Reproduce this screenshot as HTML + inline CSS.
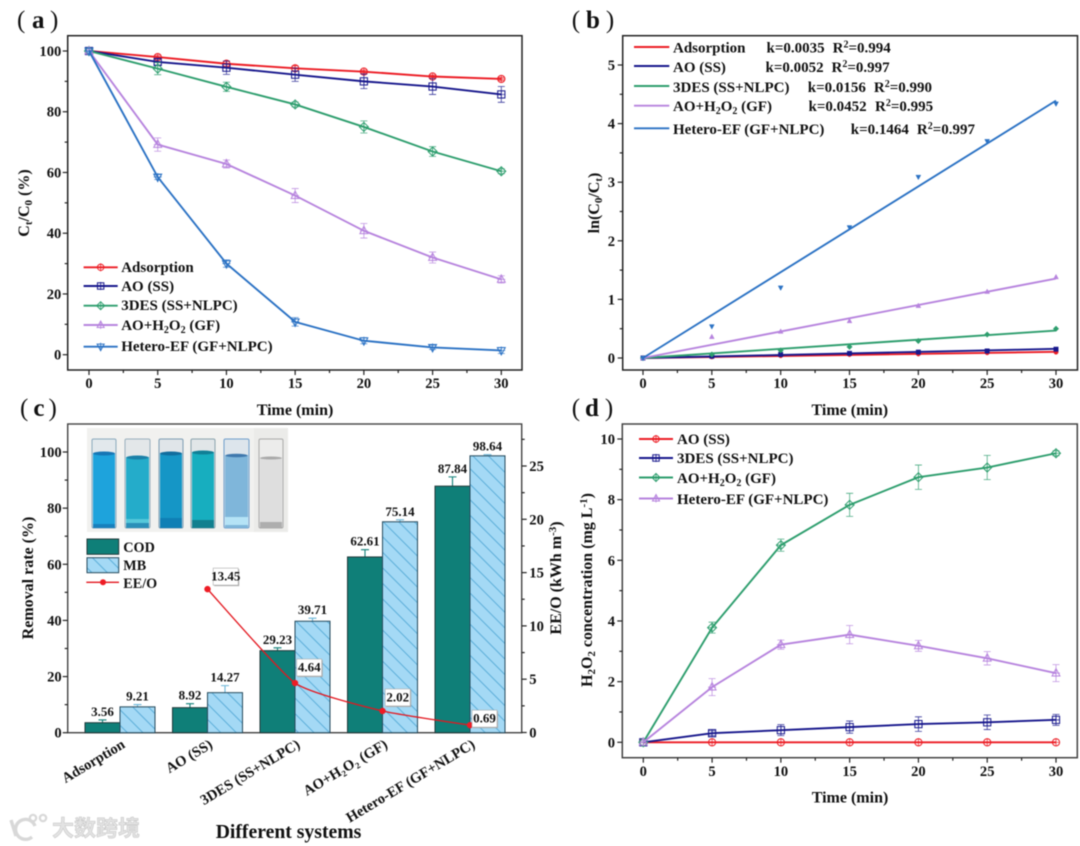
<!DOCTYPE html>
<html lang="en">
<head>
<meta charset="utf-8">
<title>Degradation performance charts</title>
<style>
html,body{margin:0;padding:0;background:#fff;}
body{width:1080px;height:846px;overflow:hidden;}
svg{display:block;filter:blur(0.45px);}
text{font-family:"Liberation Serif","Noto Serif CJK SC",serif;font-weight:bold;fill:#111;}
.tick{font-size:14.6px;}
.title{font-size:16px;}
.leg{font-size:15px;}
.legc{font-size:14.2px;}
.val{font-size:13px;}
.panel{font-size:25px;}
.paren{font-weight:normal;}
.wm{font-family:"Liberation Sans","Noto Sans CJK SC",sans-serif;font-weight:bold;font-size:22px;fill:#e3e3e3;stroke:#c4c4c4;stroke-width:.5px;}
</style>
</head>
<body>
<svg id="root" xmlns="http://www.w3.org/2000/svg" width="1080" height="846" viewBox="0 0 1080 846">
<defs>
<pattern id="hatch" patternUnits="userSpaceOnUse" width="11" height="11" patternTransform="rotate(-45)">
<rect width="11" height="11" fill="#a4d9f5"/>
<line x1="1" y1="0" x2="1" y2="11" stroke="#54a9d6" stroke-width="0.9"/>
</pattern>
</defs>
<rect width="1080" height="846" fill="#fff"/>

<!-- panel labels -->
<text class="panel" x="17" y="28"><tspan class="paren">(</tspan><tspan dx="6.7">a</tspan><tspan class="paren" dx="5.5">)</tspan></text>
<text class="panel" x="571.7" y="28"><tspan class="paren">(</tspan><tspan dx="6">b</tspan><tspan class="paren" dx="6">)</tspan></text>
<text class="panel" x="20" y="416"><tspan class="paren">(</tspan><tspan dx="5">c</tspan><tspan class="paren" dx="4">)</tspan></text>
<text class="panel" x="571.7" y="416"><tspan class="paren">(</tspan><tspan dx="5">d</tspan><tspan class="paren" dx="6">)</tspan></text>

<g id="chartA"></g>
<g id="chartB"></g>

<!-- panel c underlay and photo are appended around bars -->
<g id="chartC"></g>
<g id="photo">
<rect x="87" y="428" width="201" height="104" fill="#f1f1ef"/>
<rect x="254" y="428" width="34" height="104" fill="#ebebe9"/>
<g><rect x="92" y="439" width="24" height="89" rx="1.5" fill="#e2e8ec" stroke="#8aa9bd"/><rect x="93" y="453" width="22" height="75" fill="#1ea3dc"/><ellipse cx="104" cy="453.5" rx="11" ry="2" fill="#1676b5"/><rect x="93" y="524" width="22" height="4" fill="#1780bd"/></g>
<g><rect x="125" y="439" width="25" height="89" rx="1.5" fill="#e3e7e9" stroke="#9ab0bd"/><rect x="126" y="457" width="23" height="71" fill="#24acca"/><ellipse cx="137.5" cy="457.5" rx="11" ry="2" fill="#1a80a8"/><rect x="126" y="519" width="23" height="4" fill="#55c8da"/><rect x="126" y="523" width="23" height="5" fill="#2a8fb8"/></g>
<g><rect x="159" y="439" width="24" height="89" rx="1.5" fill="#e0e5e9" stroke="#7d9db3"/><rect x="160" y="453" width="22" height="75" fill="#1596c6"/><ellipse cx="171" cy="453.5" rx="11" ry="2" fill="#106d9e"/><rect x="160" y="518" width="22" height="10" fill="#0f7fb5"/></g>
<g><rect x="191" y="439" width="24" height="89" rx="1.5" fill="#e1e6e8" stroke="#8aa3ae"/><rect x="192" y="452" width="22" height="76" fill="#17aebf"/><ellipse cx="203" cy="452.5" rx="11" ry="2" fill="#107f96"/><rect x="192" y="520" width="22" height="8" fill="#12808f"/></g>
<g><rect x="224" y="439" width="25" height="89" rx="1.5" fill="#dde5ec" stroke="#6f9ecb"/><rect x="225" y="455" width="23" height="73" fill="#7fb6da"/><ellipse cx="236.5" cy="455.5" rx="11" ry="1.8" fill="#3f78ad"/><rect x="225" y="517" width="23" height="8" fill="#b5e3f6"/></g>
<g><rect x="259" y="439" width="24" height="89" rx="1.5" fill="#ececeb" stroke="#a9a9a9"/><rect x="260" y="458" width="22" height="70" fill="#dedede"/><ellipse cx="271" cy="458" rx="11" ry="1.5" fill="#a9a9a9"/><rect x="260" y="522" width="22" height="6" fill="#aeaeae"/></g>
</g>
<g id="chartCFront"></g>

<g id="chartD"></g>

<!-- axis titles -->
<text class="title" text-anchor="middle" x="295" y="415">Time (min)</text>
<text class="title" text-anchor="middle" transform="translate(29,203) rotate(-90)">C<tspan dy="3" font-size="11">t</tspan><tspan dy="-3">/C</tspan><tspan dy="3" font-size="11">0</tspan><tspan dy="-3"> (%)</tspan></text>
<text class="title" text-anchor="middle" x="849.8" y="415">Time (min)</text>
<text class="title" text-anchor="middle" transform="translate(599,203) rotate(-90)">ln(C<tspan dy="3" font-size="11">0</tspan><tspan dy="-3">/C</tspan><tspan dy="3" font-size="11">t</tspan><tspan dy="-3">)</tspan></text>
<text class="title" text-anchor="middle" transform="translate(33,578) rotate(-90)">Removal rate (%)</text>
<text class="title" text-anchor="middle" transform="translate(561,578) rotate(-90)">EE/O (kWh m<tspan dy="-5" font-size="11">-3</tspan><tspan dy="5">)</tspan></text>
<text text-anchor="middle" x="288.5" y="838" font-size="19.7">Different systems</text>
<text class="title" text-anchor="middle" x="850" y="802.5">Time (min)</text>
<text class="title" text-anchor="middle" transform="translate(592,590) rotate(-90)">H<tspan dy="3" font-size="11">2</tspan><tspan dy="-3">O</tspan><tspan dy="3" font-size="11">2</tspan><tspan dy="-3"> concentration (mg L</tspan><tspan dy="-5" font-size="11">-1</tspan><tspan dy="5">)</tspan></text>

<!-- legend text a -->
<text class="leg" x="121.2" y="272">Adsorption</text>
<text class="leg" x="121.2" y="291">AO (SS)</text>
<text class="leg" x="121.2" y="310">3DES (SS+NLPC)</text>
<text class="leg" x="121.2" y="330">AO+H<tspan dy="3" font-size="10">2</tspan><tspan dy="-3">O</tspan><tspan dy="3" font-size="10">2</tspan><tspan dy="-3"> (GF)</tspan></text>
<text class="leg" x="121.2" y="351">Hetero-EF (GF+NLPC)</text>

<!-- legend text b -->
<text class="leg" x="673" y="52.5">Adsorption</text>
<text class="leg" x="766.5" y="52.5">k=0.0035</text>
<text class="leg" x="832.6" y="52.5">R<tspan dy="-5" font-size="10">2</tspan><tspan dy="5">=0.994</tspan></text>
<text class="leg" x="673" y="72">AO (SS)</text>
<text class="leg" x="765.5" y="72">k=0.0052</text>
<text class="leg" x="831.5" y="72">R<tspan dy="-5" font-size="10">2</tspan><tspan dy="5">=0.997</tspan></text>
<text class="leg" x="673" y="92">3DES (SS+NLPC)</text>
<text class="leg" x="807.8" y="92">k=0.0156</text>
<text class="leg" x="873.9" y="92">R<tspan dy="-5" font-size="10">2</tspan><tspan dy="5">=0.990</tspan></text>
<text class="leg" x="673" y="111">AO+H<tspan dy="3" font-size="10">2</tspan><tspan dy="-3">O</tspan><tspan dy="3" font-size="10">2</tspan><tspan dy="-3"> (GF)</tspan></text>
<text class="leg" x="808.5" y="111">k=0.0452</text>
<text class="leg" x="875" y="111">R<tspan dy="-5" font-size="10">2</tspan><tspan dy="5">=0.995</tspan></text>
<text class="leg" x="673" y="134">Hetero-EF (GF+NLPC)</text>
<text class="leg" x="850.8" y="134">k=0.1464</text>
<text class="leg" x="916.9" y="134">R<tspan dy="-5" font-size="10">2</tspan><tspan dy="5">=0.997</tspan></text>

<!-- legend text c -->
<text class="legc" x="123.3" y="552">COD</text>
<text class="legc" x="123.3" y="570">MB</text>
<text class="legc" x="123.3" y="588">EE/O</text>

<!-- legend text d -->
<text class="leg" x="677" y="444">AO (SS)</text>
<text class="leg" x="677" y="463">3DES (SS+NLPC)</text>
<text class="leg" x="677" y="483">AO+H<tspan dy="3" font-size="10">2</tspan><tspan dy="-3">O</tspan><tspan dy="3" font-size="10">2</tspan><tspan dy="-3"> (GF)</tspan></text>
<text class="leg" x="677" y="504">Hetero-EF (GF+NLPC)</text>

<!-- watermark -->
<g>
<g fill="none" stroke="#d8d8d8" stroke-width="3.4">
<path d="M11 820 L16 836"/>
<path d="M35 826 A10 10 0 1 0 32 837"/>
<circle cx="33" cy="818" r="3.2" stroke-width="2.2"/>
<circle cx="43" cy="818" r="3.2" stroke-width="2.2"/>
</g>
<text class="wm" x="52" y="836">大数跨境</text>
</g>
</svg>

<script>
// ---------- shared x values and tick labels ----------
const timePoints = [0, 5, 10, 15, 20, 25, 30];
const timeTickLabels = [0, 5, 10, 15, 20, 25, 30];

// ---------- panel (a): Ct/C0 (%) ----------
const aTickLabels = [0, 20, 40, 60, 80, 100];
const aAdsorption = [100, 98, 95.8, 94.3, 93.2, 91.6, 90.8];
const aAdsorptionErr = [0, 0.6, 0.8, 0.8, 0.5, 0.5, 0.5];
const aAO = [100, 96.4, 94.5, 92.2, 90, 88.3, 85.7];
const aAOErr = [0, 1, 2.2, 2.2, 2.4, 2.6, 2.6];
const a3DES = [100, 94.2, 88.2, 82.4, 75, 66.9, 60.4];
const a3DESErr = [0, 2, 1.5, 0.8, 2, 1.6, 0.8];
const aH2O2 = [100, 69.2, 62.8, 52.4, 40.8, 32, 24.8];
const aH2O2Err = [0, 2.2, 1.3, 2.3, 2.4, 1.8, 1.2];
const aHetero = [100, 58.5, 30, 10.8, 4.6, 2.4, 1.4];
const aHeteroErr = [0, 0.8, 1.2, 1.4, 1, 0.7, 1];

// ---------- panel (b): ln(C0/Ct) ----------
const bTickLabels = [0, 1, 2, 3, 4, 5];
const bAdsorption = [0, 0.02, 0.04, 0.06, 0.07, 0.09, 0.1];
const bAO = [0, 0.03, 0.06, 0.08, 0.1, 0.12, 0.15];
const b3DES = [0, 0.06, 0.13, 0.19, 0.29, 0.4, 0.5];
const bH2O2 = [0, 0.36, 0.45, 0.63, 0.89, 1.13, 1.38];
const bHetero = [0, 0.54, 1.2, 2.23, 3.09, 3.7, 4.34];
const bRateConstants = [0.0035, 0.0052, 0.0156, 0.0452, 0.1464];

// ---------- panel (c): bars + EE/O ----------
const cCategories = ["Adsorption", "AO (SS)", "3DES (SS+NLPC)", "AO+H\u2082O\u2082 (GF)", "Hetero-EF (GF+NLPC)"];
const cTickLabels = [0, 20, 40, 60, 80, 100];
const cRightTickLabels = [0, 5, 10, 15, 20, 25];
const cCOD = [3.56, 8.92, 29.23, 62.61, 87.84];
const cCODErr = [1, 1.4, 1, 2.6, 3.3];
const cMB = [9.21, 14.27, 39.71, 75.14, 98.64];
const cMBErr = [0.8, 2.5, 1.1, 0.7, 0.4];
const cEEO = [null, 13.45, 4.64, 2.02, 0.69];

// ---------- panel (d): H2O2 concentration ----------
const dTickLabels = [0, 2, 4, 6, 8, 10];
const dAO = [0, 0, 0, 0, 0, 0, 0];
const dAOErr = [0, 0, 0, 0, 0, 0, 0];
const d3DES = [0, 0.3, 0.4, 0.5, 0.6, 0.66, 0.74];
const d3DESErr = [0, 0.08, 0.18, 0.2, 0.24, 0.24, 0.18];
const dH2O2 = [0, 3.78, 6.5, 7.83, 8.74, 9.06, 9.53];
const dH2O2Err = [0, 0.18, 0.2, 0.38, 0.4, 0.4, 0.08];
const dHetero = [0, 1.82, 3.22, 3.55, 3.18, 2.77, 2.28];
const dHeteroErr = [0, 0.28, 0.15, 0.3, 0.18, 0.22, 0.28];

// ---------- colours ----------
const RED = "#ec1c24", NAVY = "#17178c", GREEN = "#2e9e6e", PURPLE = "#b784de", BLUE = "#2b72c4";
const INK = "#222";
const NS = "http://www.w3.org/2000/svg";

function el(parent, tag, name, attrs) {
  const node = document.createElementNS(NS, tag);
  
  
  for (const k in attrs) node.setAttribute(k, attrs[k]);
  parent.appendChild(node);
  return node;
}
function scale(d0, p0, d1, p1) {
  return v => p0 + (v - d0) * (p1 - p0) / (d1 - d0);
}
function txt(parent, name, x, y, str, cls, anchor) {
  const t = el(parent, 'text', name, {x: x, y: y, class: cls, 'text-anchor': anchor});
  t.textContent = str;
  return t;
}
function frame(g, name, box, stroke) {
  el(g, 'rect', name, {x: box.l, y: box.t, width: box.r - box.l, height: box.b - box.t, fill: 'none', stroke: stroke || INK, 'stroke-width': 1.5});
}
function tickV(g, name, sx, v, y0, len) {
  el(g, 'line', name, {x1: sx(v), x2: sx(v), y1: y0, y2: y0 + len, stroke: INK, 'stroke-width': 1.2});
}
function tickH(g, name, sy, v, x0, len) {
  el(g, 'line', name, {x1: x0, x2: x0 + len, y1: sy(v), y2: sy(v), stroke: INK, 'stroke-width': 1.2});
}
function xAxis(g, box, sx, labels, labelY) {
  labels.forEach((v, i) => {
    tickV(g, 'x-tick', sx, v, box.b, 5);
    if (i < labels.length - 1) tickV(g, 'x-minor-tick', sx, (v + labels[i + 1]) / 2, box.b, 3);
    txt(g, 'x-tick-label', sx(v), labelY, String(v), 'tick', 'middle');
  });
}
function yAxis(g, box, sy, labels, labelX) {
  labels.forEach((v, i) => {
    tickH(g, 'y-tick', sy, v, box.l, -5);
    if (i < labels.length - 1) tickH(g, 'y-minor-tick', sy, (v + labels[i + 1]) / 2, box.l, -3);
    txt(g, 'y-tick-label', labelX, sy(v) + 5, String(v), 'tick', 'end');
  });
}
function marker(g, name, shape, x, y, r, color, filled, sw) {
  const common = {fill: filled ? color : 'none', stroke: color, 'stroke-width': sw || 1};
  if (shape === 'circle') {
    el(g, 'circle', name, Object.assign({cx: x, cy: y, r: r}, common));
  } else if (shape === 'square') {
    el(g, 'rect', name, Object.assign({x: x - r, y: y - r, width: 2 * r, height: 2 * r}, common));
  } else {
    let pts;
    if (shape === 'diamond') pts = [[x, y - r * 1.25], [x + r * 1.25, y], [x, y + r * 1.25], [x - r * 1.25, y]];
    if (shape === 'up') pts = [[x, y - r * 1.25], [x + r * 1.1, y + r * 0.8], [x - r * 1.1, y + r * 0.8]];
    if (shape === 'down') pts = [[x, y + r * 1.25], [x + r * 1.1, y - r * 0.8], [x - r * 1.1, y - r * 0.8]];
    el(g, 'polygon', name, Object.assign({points: pts.map(p => p.join(',')).join(' ')}, common));
  }
}
function series(g, key, xs, ys, errs, sx, sy, color, shape) {
  el(g, 'polyline', key + '-line', {
    points: xs.map((x, i) => sx(x) + ',' + sy(ys[i])).join(' '),
    fill: 'none', stroke: color, 'stroke-width': 1.9
  });
  xs.forEach((x, i) => {
    const px = sx(x), py = sy(ys[i]);
    const top = sy(ys[i] + errs[i]), bot = sy(ys[i] - errs[i]);
    if (errs[i] > 0) {
      el(g, 'path', key + '-error-bar', {
        d: 'M' + px + ' ' + top + 'V' + bot + 'M' + (px - 3.5) + ' ' + top + 'h7M' + (px - 3.5) + ' ' + bot + 'h7',
        stroke: color, 'stroke-width': 0.8, fill: 'none', opacity: 0.85
      });
    }
    el(g, 'path', key + '-center-cross', {
      d: 'M' + px + ' ' + (py - 4) + 'v8M' + (px - 4) + ' ' + py + 'h8',
      stroke: color, 'stroke-width': 0.7, fill: 'none'
    });
    marker(g, key + '-point', shape, px, py, 3.6, color, false, 1);
  });
}
function legendLine(g, name, x1, x2, y, color, shape) {
  el(g, 'line', name + '-line', {x1: x1, x2: x2, y1: y, y2: y, stroke: color, 'stroke-width': 1.9});
  if (shape) {
    const cx = (x1 + x2) / 2;
    el(g, 'line', name + '-bar', {x1: cx, x2: cx, y1: y - 4, y2: y + 4, stroke: color, 'stroke-width': 0.8});
    marker(g, name + '-marker', shape, cx, y, 3.2, color, false, 1);
  }
}

// ---------- panel a ----------
(function () {
  const g = document.getElementById('chartA');
  const box = {l: 67.7, r: 522, t: 35.7, b: 370};
  const sx = scale(0, 89, 30, 501.3), sy = scale(0, 354.7, 100, 51);
  frame(g, 'plot-frame-a', box);
  xAxis(g, box, sx, timeTickLabels, 388);
  yAxis(g, box, sy, aTickLabels, 61.3);
  series(g, 'adsorption', timePoints, aAdsorption, aAdsorptionErr, sx, sy, RED, 'circle');
  series(g, 'ao-ss', timePoints, aAO, aAOErr, sx, sy, NAVY, 'square');
  series(g, '3des', timePoints, a3DES, a3DESErr, sx, sy, GREEN, 'diamond');
  series(g, 'ao-h2o2', timePoints, aH2O2, aH2O2Err, sx, sy, PURPLE, 'up');
  series(g, 'hetero-ef', timePoints, aHetero, aHeteroErr, sx, sy, BLUE, 'down');
  legendLine(g, 'legend-a-adsorption', 83.6, 117.7, 267.3, RED, 'circle');
  legendLine(g, 'legend-a-ao', 83.6, 117.7, 286, NAVY, 'square');
  legendLine(g, 'legend-a-3des', 83.6, 117.7, 305.7, GREEN, 'diamond');
  legendLine(g, 'legend-a-h2o2', 83.6, 117.7, 325, PURPLE, 'up');
  legendLine(g, 'legend-a-hetero', 83.6, 117.7, 346.7, BLUE, 'down');
})();

// ---------- panel b ----------
(function () {
  const g = document.getElementById('chartB');
  const box = {l: 622.7, r: 1077.5, t: 35.7, b: 370};
  const sx = scale(0, 643, 30, 1056), sy = scale(0, 358, 5, 65);
  frame(g, 'plot-frame-b', box);
  xAxis(g, box, sx, timeTickLabels, 388);
  yAxis(g, box, sy, bTickLabels, 615);
  const sets = [
    ['adsorption', bAdsorption, RED, 'circle'],
    ['ao-ss', bAO, NAVY, 'square'],
    ['3des', b3DES, GREEN, 'diamond'],
    ['ao-h2o2', bH2O2, PURPLE, 'up'],
    ['hetero-ef', bHetero, BLUE, 'down']
  ];
  const legendYs = [47, 66, 86, 105.7, 128.3];
  const last = timePoints[timePoints.length - 1];
  sets.forEach((s, i) => {
    el(g, 'line', s[0] + '-fit-line', {
      x1: sx(0), y1: sy(0), x2: sx(last), y2: sy(bRateConstants[i] * last),
      stroke: s[2], 'stroke-width': 1.9
    });
    timePoints.forEach((t, j) => {
      marker(g, s[0] + '-point', s[3], sx(t), sy(s[1][j]), 2.2, s[2], true, 0.5);
    });
    legendLine(g, 'legend-b-' + s[0], 634, 669.3, legendYs[i], s[2], null);
  });
})();

// ---------- panel c ----------
(function () {
  const g = document.getElementById('chartC');
  const front = document.getElementById('chartCFront');
  const box = {l: 67.7, r: 521.7, t: 424, b: 732.7};
  const sy = scale(0, 732.7, 100, 452);
  const sr = scale(0, 732.5, 25, 466);
  const groupX = i => 120 + i * 87.5;
  const barW = 35;
  el(g, 'rect', 'plot-frame-c', {x: box.l, y: box.t, width: box.r - box.l, height: box.b - box.t, fill: '#fff', stroke: '#444', 'stroke-width': 1.4});
  yAxis(g, box, sy, cTickLabels, 61.7);
  cRightTickLabels.forEach((v, i) => {
    tickH(g, 'right-tick', sr, v, box.r, 5);
    if (i < cRightTickLabels.length - 1) tickH(g, 'right-minor-tick', sr, v + 2.5, box.r, 3);
    txt(g, 'right-tick-label', 529.3, sr(v) + 5, String(v), 'tick', 'start');
  });
  el(g, 'line', 'right-top-minor-tick', {x1: box.r, x2: box.r + 3, y1: sr(27.5), y2: sr(27.5), stroke: INK, 'stroke-width': 1.2});
  cCategories.forEach((c, i) => {
    const cx = groupX(i);
    const codY = sy(cCOD[i]), mbY = sy(cMB[i]);
    const ce = sy(cCOD[i] + cCODErr[i]), me = sy(cMB[i] + cMBErr[i]);
    el(g, 'path', 'cod-error-bar', {d: 'M' + (cx - barW / 2) + ' ' + codY + 'V' + ce + 'm-4 0h8', stroke: '#128079', 'stroke-width': 1.1, fill: 'none'});
    el(g, 'path', 'mb-error-bar', {d: 'M' + (cx + barW / 2) + ' ' + mbY + 'V' + me + 'm-4 0h8', stroke: '#6bb6d8', 'stroke-width': 1.1, fill: 'none'});
    el(g, 'rect', 'cod-bar', {x: cx - barW, y: codY, width: barW, height: sy(0) - codY, fill: '#0f7f78', stroke: '#22393a', 'stroke-width': 1});
    el(g, 'rect', 'mb-bar', {x: cx, y: mbY, width: barW, height: sy(0) - mbY, fill: 'url(#hatch)', stroke: '#264a5c', 'stroke-width': 1});
    txt(g, 'cod-value-label', cx - barW / 2, ce - 4, cCOD[i].toFixed(2), 'val', 'middle');
    txt(g, 'mb-value-label', cx + barW / 2, me - 4, cMB[i].toFixed(2), 'val', 'middle');
    const t = el(g, 'text', 'category-label', {
      class: 'tick', 'text-anchor': 'end',
      transform: 'translate(' + (cx + 6) + ',747) rotate(-31)', 'font-size': 14
    });
    t.textContent = c;
  });
  // EE/O smooth curve
  const pts = [];
  cEEO.forEach((v, i) => { if (v !== null) pts.push([groupX(i), sr(v), v]); });
  let d = 'M' + pts[0][0] + ' ' + pts[0][1];
  for (let i = 0; i < pts.length - 1; i++) {
    const p0 = pts[Math.max(0, i - 1)], p1 = pts[i], p2 = pts[i + 1], p3 = pts[Math.min(pts.length - 1, i + 2)];
    const c1x = p1[0] + (p2[0] - p0[0]) / 12, c1y = p1[1] + (p2[1] - p0[1]) / 12;
    const c2x = p2[0] - (p3[0] - p1[0]) / 12, c2y = p2[1] - (p3[1] - p1[1]) / 12;
    d += 'C' + c1x + ' ' + c1y + ' ' + c2x + ' ' + c2y + ' ' + p2[0] + ' ' + p2[1];
  }
  el(front, 'path', 'eeo-line', {d: d, fill: 'none', stroke: '#e3171f', 'stroke-width': 1.3});
  const boxOffsets = [[5.7, -21], [1.7, -24], [2.7, -22], [2, -15]];
  pts.forEach((p, i) => {
    el(front, 'circle', 'eeo-point', {cx: p[0], cy: p[1], r: 3.2, fill: '#ee1c25'});
    const bx = p[0] + boxOffsets[i][0], by = p[1] + boxOffsets[i][1];
    el(front, 'rect', 'eeo-label-box', {x: bx + 1, y: by + 1, width: 25, height: 17, fill: '#aaa'});
    el(front, 'rect', 'eeo-label-bg', {x: bx, y: by, width: 25, height: 17, fill: '#fff', stroke: '#aaa', 'stroke-width': 0.6});
    txt(front, 'eeo-value-label', bx + 12.5, by + 12.5, p[2].toFixed(2), 'val', 'middle').setAttribute('font-size', '12');
  });
  // legend swatches
  el(front, 'rect', 'legend-c-cod-swatch', {x: 87, y: 539, width: 31.7, height: 15.3, fill: '#0f7f78', stroke: '#22393a', 'stroke-width': 1});
  el(front, 'rect', 'legend-c-mb-swatch', {x: 87, y: 557.7, width: 31.7, height: 15, fill: 'url(#hatch)', stroke: '#264a5c', 'stroke-width': 1});
  el(front, 'line', 'legend-c-eeo-line', {x1: 86.3, x2: 119, y1: 582.3, y2: 582.3, stroke: '#e3171f', 'stroke-width': 1.3});
  el(front, 'circle', 'legend-c-eeo-marker', {cx: 103, cy: 582.3, r: 3, fill: '#ee1c25'});
})();

// ---------- panel d ----------
(function () {
  const g = document.getElementById('chartD');
  const box = {l: 622.3, r: 1077.3, t: 424, b: 757.7};
  const sx = scale(0, 643.3, 30, 1056), sy = scale(0, 742.3, 10, 439);
  frame(g, 'plot-frame-d', box, '#444');
  xAxis(g, box, sx, timeTickLabels, 776);
  yAxis(g, box, sy, dTickLabels, 615);
  series(g, 'ao-ss', timePoints, dAO, dAOErr, sx, sy, RED, 'circle');
  series(g, '3des', timePoints, d3DES, d3DESErr, sx, sy, NAVY, 'square');
  series(g, 'ao-h2o2', timePoints, dH2O2, dH2O2Err, sx, sy, GREEN, 'diamond');
  series(g, 'hetero-ef', timePoints, dHetero, dHeteroErr, sx, sy, PURPLE, 'up');
  legendLine(g, 'legend-d-ao', 639, 673, 439, RED, 'circle');
  legendLine(g, 'legend-d-3des', 639, 673, 458, NAVY, 'square');
  legendLine(g, 'legend-d-h2o2', 639, 673, 477.5, GREEN, 'diamond');
  legendLine(g, 'legend-d-hetero', 639, 673, 498.5, PURPLE, 'up');
})();
</script>
</body>
</html>
